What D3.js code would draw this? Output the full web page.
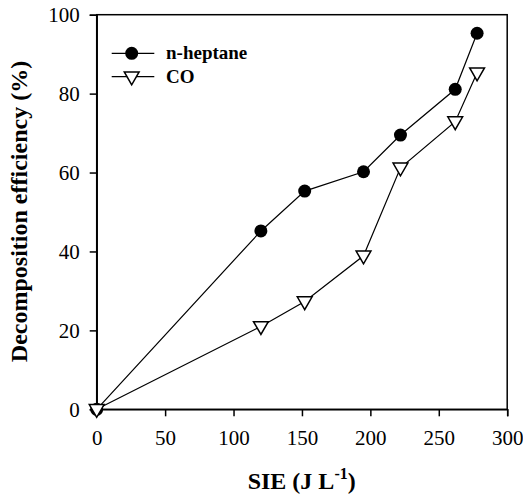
<!DOCTYPE html>
<html>
<head>
<meta charset="utf-8">
<script src="https://cdn.jsdelivr.net/npm/d3@7"></script>
<style>
  body { margin: 0; background: #fff; }
  svg { display: block; }
  text { font-family: "Liberation Serif", "Times New Roman", serif; }
</style>
</head>
<body>
<svg id="chart" width="523" height="495"></svg>
<script>
const sie = [0, 120, 152, 195, 222, 262, 278];
const heptane = [0, 45.2, 55.3, 60.2, 69.5, 81.1, 95.3];
const co = [0, 21.0, 27.3, 38.9, 61.2, 72.9, 85.3];
const xTicks = [0, 50, 100, 150, 200, 250, 300];
const yTicks = [0, 20, 40, 60, 80, 100];
const seriesNames = ["n-heptane", "CO"];

const svg = d3.select("#chart");
const m = { left: 96.7, right: 523 - 507.2, top: 14.7, bottom: 495 - 409.3 };
const W = 523, H = 495;
const x = d3.scaleLinear().domain([0, 300]).range([m.left, W - m.right]);
const y = d3.scaleLinear().domain([0, 100]).range([H - m.bottom, m.top]);

// frame
svg.append("rect")
  .attr("x", x(0)).attr("y", y(100))
  .attr("width", x(300) - x(0)).attr("height", y(0) - y(100))
  .attr("fill", "none").attr("stroke", "#000").attr("stroke-width", 1.5);

const xAxis = svg.append("g").attr("transform", `translate(0,${y(0)})`)
  .call(d3.axisBottom(x).tickValues(xTicks).tickSize(7).tickPadding(14).tickFormat(d3.format("d")));
const yAxis = svg.append("g").attr("transform", `translate(${x(0)},0)`)
  .call(d3.axisLeft(y).tickValues(yTicks).tickSize(7).tickPadding(10).tickFormat(d3.format("d")));
[xAxis, yAxis].forEach(g => {
  g.select(".domain").attr("stroke-width", 1.5);
  g.selectAll(".tick line").attr("stroke-width", 1.5);
  g.selectAll(".tick text").attr("font-family", "Liberation Serif").attr("font-size", 21).attr("fill", "#000");
});

const line = d3.line().x((d, i) => x(sie[i])).y(d => y(d));
svg.append("path").datum(heptane).attr("d", line).attr("fill", "none").attr("stroke", "#000").attr("stroke-width", 1.2);
svg.append("path").datum(co).attr("d", line).attr("fill", "none").attr("stroke", "#000").attr("stroke-width", 1.2);

const tri = d3.symbol().type(d3.symbolTriangle).size(95);
function triangle(sel) {
  sel.attr("d", tri).attr("fill", "#fff").attr("stroke", "#000").attr("stroke-width", 1.5);
}

svg.append("g").selectAll("circle").data(heptane).join("circle")
  .attr("cx", (d, i) => x(sie[i])).attr("cy", d => y(d)).attr("r", 6.5).attr("fill", "#000");
svg.append("g").selectAll("path").data(co).join("path")
  .attr("transform", (d, i) => `translate(${x(sie[i])},${y(d) - 0.5}) rotate(180)`)
  .call(triangle);

// legend
const lg = svg.append("g");
const rows = [53.3, 76.7];
rows.forEach((ry, i) => {
  lg.append("line").attr("x1", 111.7).attr("x2", 154.3).attr("y1", ry).attr("y2", ry)
    .attr("stroke", "#000").attr("stroke-width", 1.2);
  if (i === 0) {
    lg.append("circle").attr("cx", 131.7).attr("cy", ry).attr("r", 6.5).attr("fill", "#000");
  } else {
    lg.append("path").attr("transform", `translate(131.7,${ry - 0.5}) rotate(180)`).call(triangle);
  }
  lg.append("text").attr("x", 166).attr("y", ry + 5.8).attr("font-size", 19).attr("font-weight", "bold")
    .text(seriesNames[i]);
});

// axis titles
const xt = svg.append("text").attr("x", 301.7).attr("y", 489).attr("text-anchor", "middle")
  .attr("font-size", 24).attr("font-weight", "bold");
xt.append("tspan").text("SIE (J L");
xt.append("tspan").attr("font-size", 16).attr("dy", -10).text("-1");
xt.append("tspan").attr("dy", 10).text(")");

svg.append("text").attr("transform", "translate(27,211.5) rotate(-90)").attr("text-anchor", "middle")
  .attr("font-size", 24).attr("font-weight", "bold").text("Decomposition efficiency (%)");
</script>
</body>
</html>
